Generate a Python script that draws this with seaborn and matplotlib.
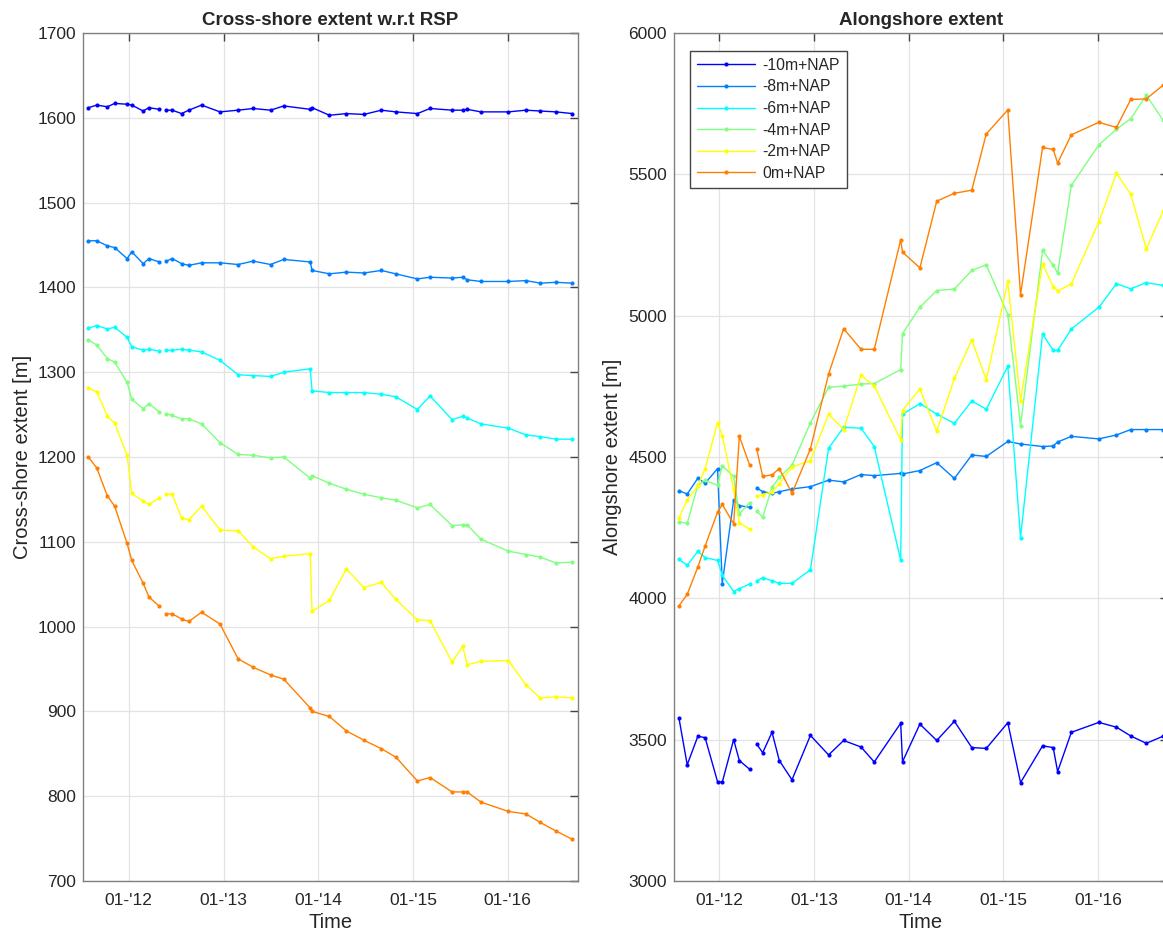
import pandas as pd
import matplotlib
matplotlib.use("Agg")
import matplotlib.pyplot as plt
import matplotlib.dates as mdates
from matplotlib.lines import Line2D
import seaborn as sns

# survey dates (a gap in the record between Apr and May 2012)
dates = ['2011-07-30', '2011-08-31', '2011-10-11', '2011-11-08', '2011-12-26',
         '2012-01-13', '2012-02-26', '2012-03-19', '2012-04-28',
         '2012-05-25', '2012-06-17', '2012-07-23', '2012-08-20', '2012-10-08',
         '2012-12-18', '2013-02-26', '2013-04-25', '2013-07-01', '2013-08-21',
         '2013-12-01', '2013-12-08', '2014-02-13', '2014-04-19', '2014-06-26',
         '2014-09-01', '2014-10-27', '2015-01-18', '2015-03-08', '2015-06-01',
         '2015-07-12', '2015-07-29', '2015-09-20', '2016-01-04', '2016-03-12',
         '2016-05-06', '2016-07-05', '2016-09-07']
n_before_gap = 9

levels = ['-10m+NAP', '-8m+NAP', '-6m+NAP', '-4m+NAP', '-2m+NAP', '0m+NAP']
colors = ['#0000ff', '#0080ff', '#00ffff', '#80ff80', '#ffff00', '#ff8000']

# cross-shore extent w.r.t RSP [m]
cross_m10 = [1612, 1615, 1613, 1617, 1616, 1615, 1608, 1612, 1610,
             1609, 1609, 1605, 1609, 1615, 1607, 1609, 1611, 1609, 1614,
             1610, 1612, 1603, 1605, 1604, 1609, 1607, 1605, 1611, 1609,
             1609, 1610, 1607, 1607, 1609, 1608, 1607, 1605]
cross_m8 = [1455, 1455, 1449, 1447, 1434, 1442, 1428, 1434, 1430,
            1431, 1434, 1428, 1426, 1429, 1429, 1427, 1431, 1427, 1433,
            1430, 1420, 1416, 1418, 1417, 1420, 1416, 1410, 1412, 1411,
            1412, 1409, 1407, 1407, 1408, 1405, 1406, 1405]
cross_m6 = [1352, 1355, 1351, 1353, 1341, 1330, 1326, 1327, 1325,
            1326, 1326, 1327, 1326, 1324, 1314, 1297, 1296, 1295, 1300,
            1304, 1278, 1276, 1276, 1276, 1274, 1271, 1256, 1272, 1244,
            1248, 1246, 1239, 1234, 1226, 1224, 1221, 1221]
cross_m4 = [1338, 1332, 1316, 1312, 1288, 1268, 1257, 1263, 1253,
            1251, 1249, 1245, 1245, 1239, 1217, 1203, 1202, 1199, 1200,
            1175, 1178, 1169, 1162, 1156, 1152, 1149, 1140, 1144, 1119,
            1120, 1120, 1103, 1089, 1085, 1082, 1075, 1076]
cross_m2 = [1281, 1277, 1248, 1240, 1202, 1157, 1148, 1144, 1152,
            1156, 1156, 1128, 1126, 1142, 1114, 1113, 1094, 1080, 1083,
            1086, 1018, 1031, 1068, 1046, 1052, 1032, 1008, 1007, 958,
            977, 955, 959, 960, 931, 916, 917, 916]
cross_0 = [1200, 1187, 1154, 1142, 1098, 1078, 1051, 1035, 1024,
           1015, 1015, 1009, 1006, 1017, 1003, 962, 952, 943, 938,
           904, 900, 894, 877, 866, 856, 846, 818, 822, 805,
           805, 805, 793, 782, 779, 769, 759, 749]

# alongshore extent [m]
along_m10 = [3577, 3411, 3512, 3507, 3351, 3349, 3500, 3426, 3395,
             3484, 3454, 3526, 3426, 3358, 3515, 3446, 3497, 3474, 3421,
             3558, 3422, 3555, 3497, 3565, 3472, 3469, 3560, 3348, 3478,
             3472, 3387, 3526, 3561, 3544, 3513, 3487, 3512]
along_m8 = [4381, 4369, 4425, 4407, 4459, 4052, 4348, 4328, 4322,
            4391, 4377, 4372, 4377, 4387, 4395, 4418, 4412, 4438, 4434,
            4442, 4440, 4452, 4480, 4424, 4507, 4502, 4555, 4546, 4537,
            4539, 4553, 4573, 4564, 4578, 4597, 4597, 4597]
along_m6 = [4138, 4117, 4166, 4144, 4134, 4082, 4024, 4034, 4051,
            4061, 4073, 4062, 4053, 4053, 4101, 4531, 4605, 4602, 4537,
            4135, 4651, 4689, 4652, 4619, 4698, 4669, 4821, 4215, 4935,
            4877, 4877, 4953, 5030, 5113, 5095, 5117, 5107]
along_m4 = [4271, 4265, 4400, 4417, 4400, 4469, 4431, 4298, 4339,
            4309, 4287, 4393, 4428, 4471, 4621, 4746, 4751, 4758, 4760,
            4809, 4936, 5030, 5089, 5094, 5160, 5180, 5004, 4611, 5231,
            5179, 5151, 5461, 5604, 5660, 5697, 5780, 5692]
along_m2 = [4284, 4348, 4398, 4458, 4622, 4575, 4386, 4267, 4244,
            4361, 4367, 4377, 4405, 4465, 4487, 4651, 4597, 4789, 4751,
            4561, 4664, 4741, 4591, 4778, 4915, 4773, 5121, 4699, 5183,
            5103, 5087, 5113, 5332, 5504, 5429, 5236, 5369]
along_0 = [3973, 4014, 4111, 4185, 4305, 4332, 4264, 4573, 4471,
           4528, 4431, 4437, 4459, 4371, 4529, 4793, 4954, 4881, 4881,
           5268, 5225, 5169, 5405, 5433, 5444, 5643, 5728, 5074, 5595,
           5588, 5540, 5640, 5684, 5666, 5765, 5767, 5815]

cross = [cross_m10, cross_m8, cross_m6, cross_m4, cross_m2, cross_0]
along = [along_m10, along_m8, along_m6, along_m4, along_m2, along_0]

rows = []
for lev, cvals, avals in zip(levels, cross, along):
    for i, d in enumerate(dates):
        rows.append({'Time': pd.Timestamp(d), 'level': lev,
                     'segment': 0 if i < n_before_gap else 1,
                     'cross': cvals[i], 'along': avals[i]})
df = pd.DataFrame(rows)
palette = dict(zip(levels, colors))

sns.set_theme(style='white')
plt.rcParams['font.family'] = ['Liberation Sans', 'DejaVu Sans']

fig = plt.figure(figsize=(11.63, 9.38), dpi=100)
ax1 = fig.add_axes([0.0716, 0.0608, 0.4251, 0.904])
ax2 = fig.add_axes([0.5793, 0.0608, 0.4251, 0.904])

for ax, col in [(ax1, 'cross'), (ax2, 'along')]:
    sns.lineplot(data=df, x='Time', y=col, hue='level', units='segment',
                 estimator=None, palette=palette, hue_order=levels,
                 marker='o', markersize=3, markeredgewidth=0,
                 linewidth=1, legend=False, ax=ax)
    ax.set_xlim(pd.Timestamp('2011-07-10'), pd.Timestamp('2016-09-27'))
    ax.xaxis.set_major_locator(mdates.YearLocator())
    ax.xaxis.set_major_formatter(mdates.DateFormatter("%m-'%y"))
    ax.grid(True, color='#e3e3e3', linewidth=0.9)
    ax.tick_params(direction='in', top=True, right=True, length=6,
                   width=1, color='#444444', labelsize=12.5,
                   labelcolor='#262626')
    ax.tick_params(axis='x', pad=9)
    ax.tick_params(axis='y', pad=5)
    for s in ax.spines.values():
        s.set_color('#808080')
        s.set_linewidth(1)
    ax.set_xlabel('Time', fontsize=14.5, color='#262626', labelpad=3)

ax1.set_ylim(700, 1700)
ax1.set_yticks(range(700, 1701, 100))
ax1.set_ylabel('Cross-shore extent [m]', fontsize=14.5, color='#262626')
ax1.set_title('Cross-shore extent w.r.t RSP', fontsize=13.5, fontweight='bold')

ax2.set_ylim(3000, 6000)
ax2.set_yticks(range(3000, 6001, 500))
ax2.set_ylabel('Alongshore extent [m]', fontsize=14.5, color='#262626')
ax2.set_title('Alongshore extent', fontsize=13.5, fontweight='bold')

handles = [Line2D([0], [0], color=c, marker='o', markersize=3,
                  markeredgewidth=0, linewidth=1) for c in colors]
leg = ax2.legend(handles, levels, loc='upper left',
                 bbox_to_anchor=(0.033, 0.979), borderaxespad=0,
                 fontsize=11.3, handlelength=3.7, handletextpad=0.45,
                 fancybox=False, framealpha=1, edgecolor='#444444',
                 labelspacing=0.42, borderpad=0.45)
leg.get_frame().set_linewidth(1)

fig.savefig('out.png', dpi=100)
